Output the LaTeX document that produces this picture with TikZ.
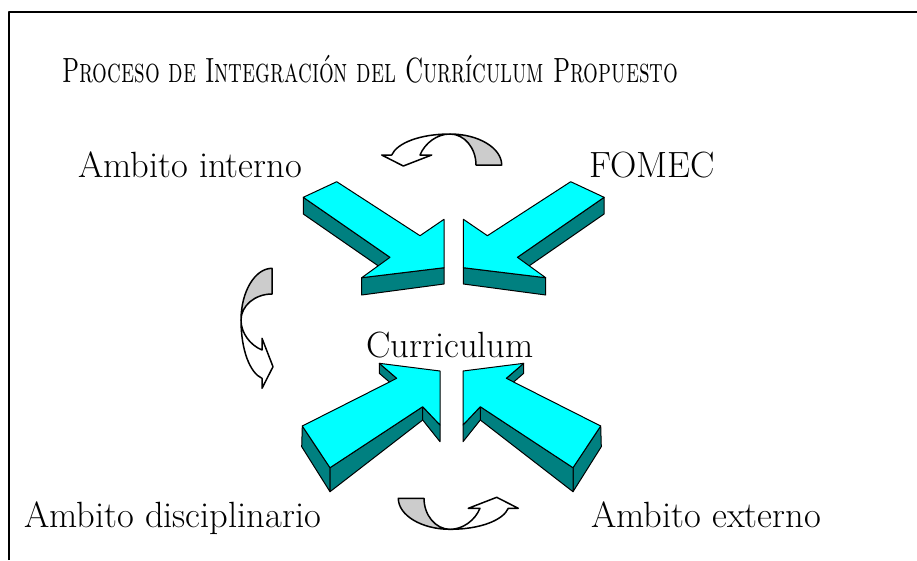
\documentclass[tikz,border=0pt]{standalone}
\usetikzlibrary{positioning}

\definecolor{facecyan}{RGB}{0,255,255}
\definecolor{faceteal}{RGB}{0,128,128}

\tikzset{
	uturn/.pic={
		% shaded back of the ribbon
		\path[backband] (26,31) -- (51.7,31) .. controls (51.7,14) and (28.4,0) .. (0,0)
			.. controls (14.3,0) and (26,14) .. (26,31) -- cycle;
		% white front with the head
		\path[frontband] (0,0) .. controls (-30,0) and (-53,9) .. (-58.3,21) -- (-68.3,21)
			-- (-46.7,32) -- (-18.3,21) -- (-30,21) .. controls (-25,9) and (-13,0) .. (0,0) -- cycle;
	}
}

\begin{document}
\begin{tikzpicture}[
	x = 1pt, y = -1pt, % slide pixels
	line join = round,
	semithick
	]
	
	\tikzstyle{topface}=[fill = facecyan, draw = black, line width = 1pt]
	\tikzstyle{sideface}=[fill = faceteal, draw = black, line width = 1pt]
	\tikzstyle{backband}=[fill = black!20, draw = black, line width = 1.5pt]
	\tikzstyle{frontband}=[fill = white, draw = black, line width = 1.5pt]
	\tikzstyle{slidetext}=[inner sep = 0pt, anchor = base, font = \fontsize{36.5}{44}\selectfont]
	
	\useasboundingbox (0,0) rectangle (917,560);
	\draw[line width = 2pt] (9,560) -- (9,12) -- (917,12);
	
	\node[anchor = base west, inner sep = 0pt, xscale = 0.665, font = \fontsize{35}{42}\selectfont] (title) at (62,82)
		{\textsc{Proceso de Integración del Currículum Propuesto}};
	
	% upper arrows, pointing down
	\foreach \s/\m in {1/0, -1/907.4} {
		\begin{scope}[xshift = \m, xscale = \s]
			\path[sideface] (303.3,197.3) -- (390,257.3) -- (390,274) -- (303.3,214) -- cycle;
			\path[sideface] (361.7,277.7) -- (444,267.7) -- (444,284) -- (361.7,295) -- cycle;
			\path[topface] (336.7,181.7) -- (303.3,197.3) -- (390,257.3) -- (361.7,277.7)
				-- (444,267.7) -- (444,219.3) -- (420,235.7) -- cycle;
		\end{scope}
	}
	
	% lower arrows, pointing up
	\foreach \s/\m in {1/0, -1/903} {
		\begin{scope}[xshift = \m, xscale = \s]
			\path[sideface] (379.3,363.3) -- (396.7,378.3) -- (396.7,388.3) -- (379.3,373.3) -- cycle;
			\path[sideface] (302.3,426) -- (330,467.7) -- (330,491.7) -- (301.7,446.7) -- cycle;
			\path[sideface] (330,467.7) -- (422.7,406.7) -- (422.7,420) -- (330,491.7) -- cycle;
			\path[sideface] (422.7,406.7) -- (440,425) -- (440,441.7) -- (422.7,420) -- cycle;
			\path[topface] (379.3,363.3) -- (440,371) -- (440,425) -- (422.7,406.7)
				-- (330,467.7) -- (302.3,426) -- (396.7,378.3) -- cycle;
		\end{scope}
	}
	
	\pic at (450,134) {uturn};
	\pic[rotate = 90] at (241,320) {uturn};
	\pic[rotate = 180] at (450,529.3) {uturn};
	
	\node[slidetext] (interno) at (190,177) {Ambito interno};
	\node[slidetext] (fomec) at (652,177) {FOMEC};
	\node[slidetext] (curriculum) at (450,357) {Curriculum};
	\node[slidetext] (disciplinario) at (172.5,527) {Ambito disciplinario};
	\node[slidetext] (externo) at (706,527) {Ambito externo};
	
\end{tikzpicture}
\end{document}
